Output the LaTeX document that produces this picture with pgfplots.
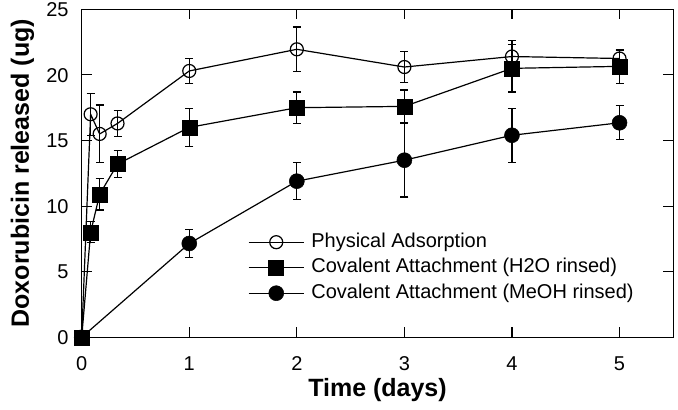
\documentclass[border=0pt]{standalone}
\usepackage{pgfplots}
\pgfplotsset{compat=1.18}
\usepackage{pgfplotstable}
\usepackage{fontspec}
\setmainfont{Liberation Sans}

\pgfplotstableread{
x y e
0 0 0
0.083 17.0 1.6
0.167 15.5 2.2
0.333 16.3 1.0
1 20.3 0.95
2 21.95 1.7
3 20.6 1.2
4 21.4 1.2
5 21.25 0.6
}\physical

\pgfplotstableread{
x y e
0 0 0
0.083 8.0 0.8
0.167 10.9 1.2
0.333 13.2 1.05
1 16.0 1.45
2 17.5 1.2
3 17.6 1.25
4 20.5 1.8
5 20.65 1.3
}\water

\pgfplotstableread{
x y e
0 0 0
1 7.15 1.05
2 11.9 1.4
3 13.5 2.8
4 15.4 2.05
5 16.35 1.3
}\methanol

\begin{document}
\begin{tikzpicture}
\begin{axis}[
  scale only axis, width=591.6bp, height=328bp,
  xmin=0, xmax=5.5, ymin=0, ymax=25,
  xtick={0,1,2,3,4,5}, ytick={0,5,10,15,20,25},
  tick align=inside, major tick length=10bp,
  axis line style={line width=1.2bp},
  every tick/.style={line width=1.2bp, black},
  /pgf/number format/assume math mode=true,
  ticklabel style={font=\fontsize{20bp}{24bp}\selectfont, inner sep=0pt},
  xticklabel style={anchor=base, yshift=-33.5bp},
  yticklabel style={anchor=base east, xshift=-13bp, yshift=-7.2bp},
  xlabel={Time (days)}, ylabel={Doxorubicin released (ug)},
  label style={font=\bfseries\fontsize{25bp}{30bp}\selectfont},
  xlabel style={at={(axis description cs:0.5,-0.180)}, anchor=base},
  ylabel style={at={(axis description cs:-0.0891,0.5)}, anchor=base},
  clip=false,
  legend cell align=left,
  legend image code/.code={\draw[mark repeat=2,mark phase=2] plot coordinates {(0bp,0bp)(27.5bp,0bp)(55bp,0bp)};},
  legend style={at={(axis description cs:0.281,0.318)}, anchor=north west,
    draw=none, fill=none, inner sep=0pt, row sep=7.5bp, column sep=7bp,
    font=\fontsize{20bp}{24bp}\selectfont,
    nodes={inner sep=0pt, text height=14bp, text depth=4bp}},
  error bars/error mark options={rotate=90, mark size=4bp, line width=1.2bp, black},
]
\addplot[black, line width=1.2bp, mark=o, mark size=6.5bp, mark options={solid, line width=1.2bp},
  error bars/.cd, y dir=both, y explicit,
  error bar style={black, line width=1.2bp}]
  table[x=x, y=y, y error=e] {\physical};
\addlegendentry{Physical Adsorption}
\addplot[black, line width=1.2bp, mark=square*, mark size=7.5bp, mark options={solid, fill=black, line width=0.5bp},
  error bars/.cd, y dir=both, y explicit,
  error bar style={black, line width=1.2bp}]
  table[x=x, y=y, y error=e] {\water};
\addlegendentry{Covalent Attachment (H2O rinsed)}
\addplot[black, line width=1.2bp, mark=*, mark size=7.5bp, mark options={solid, fill=black, line width=0.5bp},
  error bars/.cd, y dir=both, y explicit,
  error bar style={black, line width=1.2bp}]
  table[x=x, y=y, y error=e] {\methanol};
\addlegendentry{Covalent Attachment (MeOH rinsed)}
\end{axis}
\pgfresetboundingbox
\path[use as bounding box] ([xshift=-81.7bp,yshift=-72.7bp]current axis.south west) rectangle ([xshift=4.7bp,yshift=9.3bp]current axis.north east);
\end{tikzpicture}
\end{document}
